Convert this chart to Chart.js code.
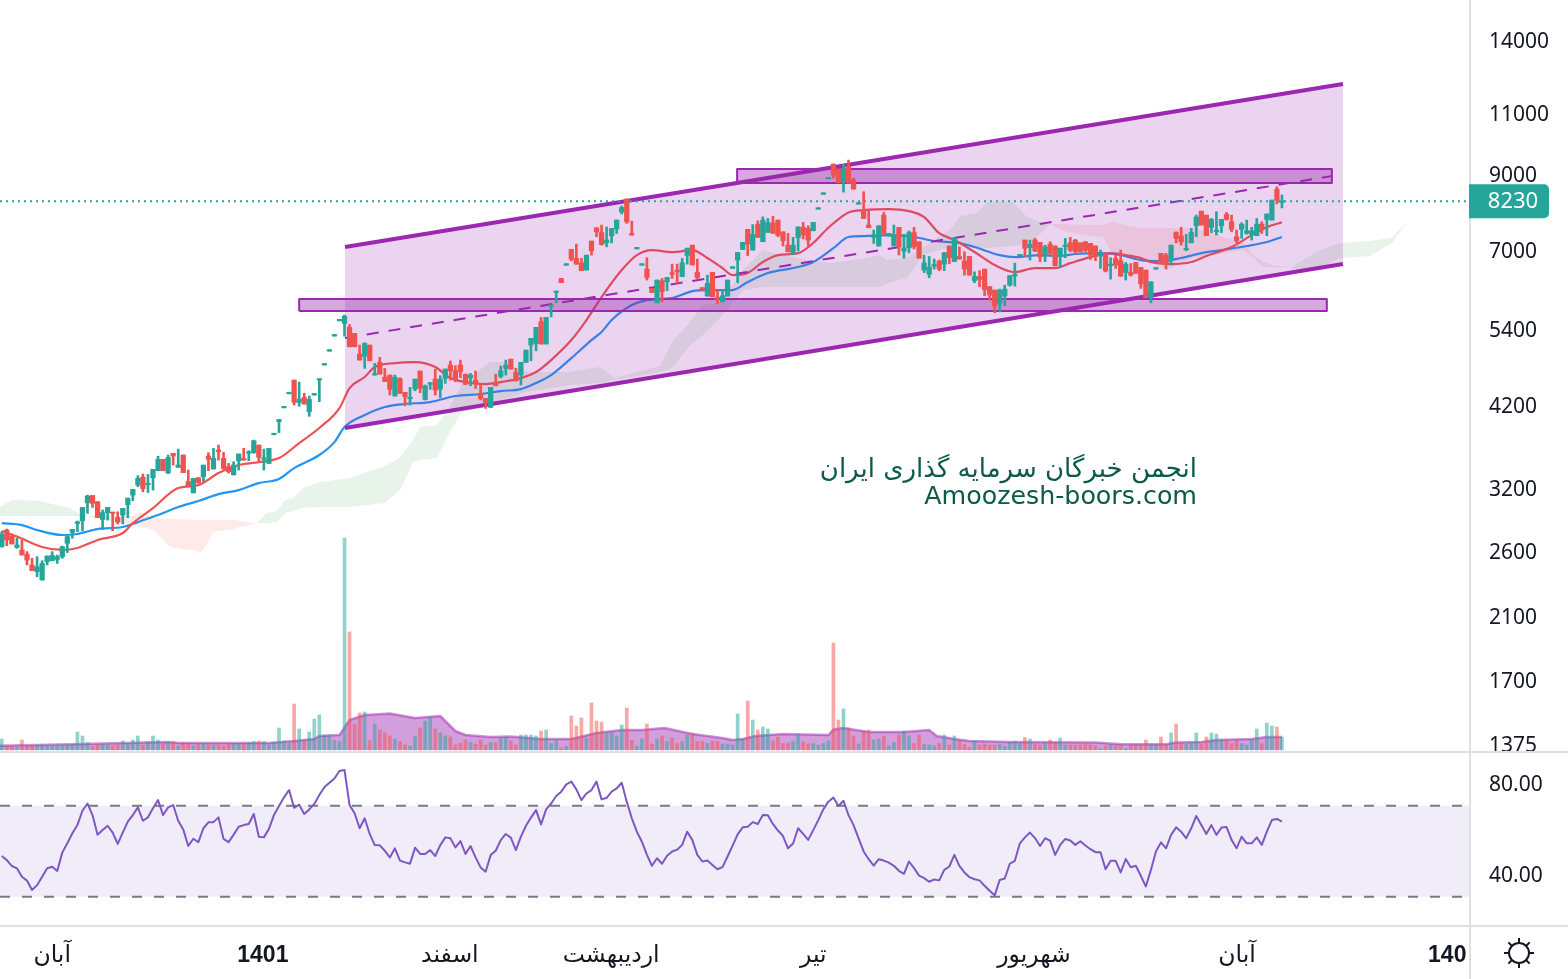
<!DOCTYPE html>
<html>
<head>
<meta charset="utf-8">
<script src="https://cdn.jsdelivr.net/npm/chart.js@4"></script>
<style>
  html, body { margin: 0; padding: 0; background: #fff; }
  canvas { display: block; }
</style>
</head>
<body>
<canvas id="chart" width="1568" height="979"></canvas>
<script>
const opens = [
  2636,2784,2730,2630,2607,2570,2481,2427,2361,2508,
  2516,2527,2550,2665,2763,2845,2870,3046,3120,3056,
  2883,2948,2950,2902,2925,3026,3124,3229,3315,3232,
  3308,3385,3515,3360,3585,3423,3565,3265,3147,3308,
  3320,3553,3404,3624,3526,3430,3340,3498,3526,3585,
  3592,3684,3515,3468,3812,3980,4165,4362,4564,4240,
  4310,4112,4344,4564,4796,5020,5276,5548,5500,5430,
  5323,4970,4938,5122,4640,4838,4608,4640,4330,4585,
  4383,4290,4430,4702,4280,4500,4578,4430,4590,4795,
  4706,4795,4654,4600,4564,4369,4297,4171,4530,4620,
  4743,4890,4680,4640,4838,5122,5150,5530,5140,5820,
  6090,6380,6663,7020,6815,6716,6558,7216,7540,7425,
  7175,7343,7510,7940,8290,7400,7032,6663,6580,6175,
  5887,6332,6310,6490,6558,6420,6880,7120,6510,6190,
  6020,6510,5993,5906,6020,6598,6778,7020,7500,7005,
  7630,7200,7425,7665,7733,7440,7120,6915,7295,7550,
  7525,7465,8015,8419,8858,9300,9150,8770,9240,8823,
  8150,7992,7608,7305,7100,7860,7335,7100,7550,6980,
  7060,7420,7200,6558,6470,6645,6755,6690,7100,6745,
  6860,6755,6860,6332,6420,6580,6210,6140,5880,6020,
  6240,6430,6873,7240,7060,7240,7185,6915,7145,7100,
  6860,7085,7175,7240,7175,7200,7160,7100,6870,6930,
  6655,6815,6765,6505,6505,6725,6615,6558,5985,6578,
  6930,6890,6815,7425,7335,7010,7175,7590,7965,7860,
  7550,7440,7590,7880,7690,7320,7500,7400,7380,7345,
  7630,7750,7733,8565,8200
];
const highs = [
  2769,2793,2748,2710,2694,2593,2536,2550,2516,2556,
  2593,2564,2641,2730,2790,2868,3000,3124,3120,3056,
  2974,3000,2950,2957,2990,3093,3183,3330,3348,3344,
  3400,3550,3515,3565,3585,3636,3565,3393,3300,3308,
  3449,3592,3644,3684,3596,3468,3487,3577,3644,3616,
  3745,3684,3636,3644,3828,4008,4185,4384,4564,4534,
  4369,4330,4366,4578,4820,5046,5304,5576,5654,5480,
  5323,5122,5160,5122,4822,4918,4743,4640,4640,4600,
  4383,4455,4578,4702,4490,4530,4733,4630,4733,4860,
  4785,4875,4654,4665,4702,4510,4297,4455,4654,4780,
  4875,4890,4743,4838,5038,5236,5430,5610,5610,5844,
  6120,6380,6697,7020,7145,6815,6890,7216,7540,7608,
  7560,7525,7733,8100,8290,7707,7068,6697,6830,6175,
  6346,6380,6400,6688,6688,6815,7050,7120,6800,6190,
  6450,6510,6140,6140,6346,6632,6950,7185,7500,7620,
  7715,7815,7775,7830,7733,7440,7400,7305,7560,7675,
  7590,7675,8055,8461,8902,9300,9150,9300,9424,8880,
  8190,8490,7992,7483,7590,7930,7400,7608,7550,7380,
  7460,7550,7200,6885,6860,6800,6778,6950,7100,7305,
  7080,6965,6860,6520,6545,6580,6210,6140,6160,6240,
  6440,6710,6907,7240,7240,7280,7185,7120,7200,7100,
  7050,7280,7305,7255,7175,7200,7160,7100,7005,6930,
  6830,6890,7005,6725,6700,6725,6615,6558,6310,6612,
  6930,6930,7120,7440,7550,7380,7525,7860,7965,7860,
  7775,7950,7750,7930,7860,7483,7665,7733,7550,7775,
  7690,7890,8260,8630,8400
];
const lows = [
  2630,2644,2659,2621,2564,2481,2435,2387,2361,2481,
  2516,2494,2536,2585,2710,2769,2775,2941,3000,2902,
  2790,2877,2778,2840,2840,2900,3066,3211,3158,3151,
  3176,3385,3385,3352,3449,3423,3364,3211,3147,3247,
  3265,3385,3404,3506,3400,3360,3337,3393,3506,3498,
  3585,3498,3393,3468,3810,3838,4165,4362,4204,4186,
  4217,4050,4344,4250,4796,5020,5276,5548,5274,5093,
  5093,4875,4743,4864,4640,4654,4542,4344,4330,4369,
  4193,4203,4406,4378,4273,4426,4344,4305,4516,4564,
  4538,4600,4500,4478,4440,4273,4157,4171,4478,4600,
  4640,4733,4550,4490,4838,4864,5026,5140,5140,5620,
  5887,6292,6663,6763,6688,6545,6558,6890,7320,7120,
  7080,7175,7400,7890,7650,7360,7032,6663,6346,6090,
  5887,5906,6126,6380,6277,6420,6688,6670,6380,6140,
  6020,6005,5862,5906,6020,6598,6292,7020,6880,7005,
  7305,7200,7425,7400,7320,7100,6965,6915,6990,7265,
  7105,7465,8015,8419,8858,8880,8745,8480,8735,8565,
  8150,7775,7540,7160,7100,7360,7335,7100,6890,6820,
  6940,7030,6820,6505,6395,6580,6545,6545,6700,6745,
  6800,6450,6450,6292,6210,6025,5941,5697,5715,5830,
  6220,6220,6873,6860,6778,6965,6745,6745,6890,6650,
  6615,6830,6965,6915,6965,6965,6790,6765,6595,6520,
  6365,6595,6420,6346,6430,6490,6175,5985,5887,6578,
  6715,6580,6670,7175,7120,6990,7175,7320,7608,7345,
  7420,7360,7420,7733,7440,7175,7280,7380,7240,7345,
  7400,7345,7733,8155,8050
];
const closes = [
  2748,2694,2659,2650,2564,2522,2435,2467,2494,2556,
  2561,2550,2635,2725,2790,2860,3000,3114,3040,2902,
  2948,3000,2940,2858,2990,3093,3183,3301,3190,3247,
  3400,3515,3385,3537,3553,3449,3364,3211,3300,3254,
  3449,3515,3526,3604,3410,3375,3449,3577,3506,3592,
  3737,3537,3530,3644,3826,4008,4185,4384,4240,4286,
  4217,4282,4366,4578,4820,5046,5304,5576,5635,5093,
  5093,4875,5150,4864,4660,4654,4542,4426,4608,4369,
  4320,4305,4578,4440,4478,4515,4416,4578,4733,4706,
  4564,4690,4500,4640,4510,4297,4228,4455,4478,4706,
  4795,4733,4550,4838,5038,5236,5430,5140,5610,5844,
  6120,6292,6697,6800,6688,6545,6890,6990,7440,7135,
  7240,7525,7733,8060,7690,7360,7068,6697,6400,6090,
  6346,6105,6400,6468,6520,6716,7050,6670,6395,6140,
  6277,6005,5960,6025,6346,6632,6950,7185,7145,7380,
  7305,7733,7665,7400,7350,7225,6965,7120,7560,7360,
  7240,7675,8055,8461,8902,8970,8745,9170,8735,8565,
  8190,7775,7540,7335,7590,7400,7400,7345,7080,7055,
  7420,7080,6820,6715,6625,6680,6580,6940,6830,7280,
  6800,6580,6450,6420,6360,6150,6040,5825,6140,6160,
  6440,6470,6907,7045,7140,6985,6850,7080,6930,6650,
  7050,7115,7005,6965,6965,7000,6890,6860,6905,6540,
  6685,6670,6430,6688,6450,6490,6265,5985,6310,6612,
  6730,6680,7120,7280,7200,7040,7425,7815,7608,7345,
  7750,7483,7750,7750,7500,7225,7630,7465,7465,7630,
  7483,7890,8260,8260,8230
];
const volumes = [
  11,4,3.5,2.5,10,4,5,5,5,4,
  4,5,5,5,5.5,18,14,7.5,3.5,5.5,
  5.5,5,4,5,9,6.5,10,14,5,8.5,
  14,10,6,7.5,8.5,4,7.5,6.5,4,6.5,
  6.5,6.5,5,5,4,6.5,6.5,6.5,6.5,7.5,
  8.5,9,8.5,5,7.5,22,9,6.5,46,21,
  10,18,31,35,15,15,9.5,8.5,212,118,
  26,37,38,9.5,26,20,17,14,11,8.5,
  5,4,14,22,29,33,21,17,14,13,
  5,6.5,10,7.5,6,10,5,7.5,7.5,12,
  13,9,5,15,15,15,14,19,20,6.5,
  10,2,3.5,34,24,32,12,47,29,28,
  17,17,14,25,42,9.5,4,11,26,6,
  11,14,8.5,12,6.5,8.5,15,17,8.5,8.5,
  6.5,8.5,8.5,6,6,5,36,11,49,30,
  20,23,21,9,13,6.5,7,8.5,16,8.5,
  6,6.5,5,6.5,9,107,30,41,22,14,
  6,19,20,10,11,14,4,7.5,15,19,
  14,6.5,15,5.5,5,4,6.5,15,5,14,
  9,5.5,2.5,9.5,5,6,5,5,6,4,
  7.5,8.5,6.5,12.5,11,6.5,5,7.5,10,7.5,
  12,5,5,5,5,6.5,5,4,1.5,4,
  5,4,5,1.5,5,5,5,10,5.5,5,
  13,5,17,26,6.5,6,7.5,17,6,13,
  17,16,10,10,6.5,10,6.5,5,10,21,
  6.5,27,24,23,13
];
const rsiValues = [
  47.9,46.1,43.5,42.5,38.8,37.1,33,35.1,38.8,42.5,
  43.2,41.3,49.4,53.5,57.9,61.5,67.8,71,65.9,57.3,
  59.3,61.2,58.2,53.2,58.2,63,65.9,69.3,63.4,64.9,
  68.9,72.5,65.9,69.3,70.3,63.4,59.6,52.3,55.5,54,
  60.1,62.7,62.8,64.9,55.4,54,57.3,60.8,61.5,62,
  66.4,56.4,56.1,59.8,65.9,69.9,73.7,76.9,69.1,70.5,
  66.4,68.4,70.8,74.7,78.1,80.1,82,85.3,85.7,70.3,
  66.7,60.1,64.5,57.6,52.7,52.6,50.2,47.3,51.3,45.9,
  45.1,44.5,51.6,48.8,48.8,50.5,47.9,52.7,56.1,55.7,
  51.7,54.5,48.8,52.3,47.3,42.9,41,48.3,50.2,54.9,
  57.6,56,50.5,56.4,61.2,64.8,68.1,61.8,68.4,71,
  74.3,76.2,79.4,80.6,77.2,72.5,75.4,76.9,80.6,72.8,
  73.5,76.2,77.6,80.1,71.8,64.5,58.6,54.2,48.4,43.6,
  46.9,44.5,48,49.9,50.7,52.8,58.6,55,48.4,45.5,
  45.9,44,42.1,43,47.7,52.5,57.4,60.5,60.8,62.8,
  62,65.9,65.8,62,59.1,56.7,51.3,53.4,60.1,57.6,
  55,59.3,63.7,68.4,71.8,73.6,69.9,72.2,65.9,61.5,
  55.7,49.9,46.5,43.7,46.5,45.9,45,43.6,41.4,40.1,
  45.5,42.6,39.3,38.2,36.6,37.6,37.2,41.8,43.3,48.4,
  43.6,40.7,38.6,37.7,37.2,34.8,32.6,30.6,37.4,38,
  44.5,45.8,53.5,56.1,58.2,55.8,52.3,55.7,54.7,48.4,
  52.8,55.4,54.7,52.8,54.4,52.5,50.9,49.6,49.6,42.1,
  45.8,45.8,40.7,46.6,43,43.6,39.2,34.5,41.8,49.9,
  53.9,51.3,57.2,60.5,58.6,55.7,60.1,65.5,61.5,57.6,
  61.5,57.2,60.4,60.7,55,51.3,56.4,53.5,53.5,56.1,
  52.8,58.6,63.7,64.2,63
];

// moving averages, read at the bends only
const fastMaBars = [0,3,8,12,15,19,24,26,30,35,39,43,47,51,55,59,63,67,69,72,74,78,82,86,89,92,96,99,103,106,109,113,116,119,123,126,129,133,137,140,143,145,148,151,154,158,161,164,168,171,176,180,183,186,189,193,197,201,205,209,212,216,220,223,226,228,232,236,239,244,248,251,254];
const fastMaValues = [2775,2725,2633,2607,2624,2694,2757,2848,2993,3197,3228,3359,3450,3483,3529,3708,3897,4162,4445,4610,4765,4827,4843,4765,4594,4534,4504,4534,4594,4686,4875,5207,5562,6000,6558,6890,7005,6960,7005,6825,6600,6450,6495,6735,6890,6935,7170,7540,7930,7992,8020,7965,7810,7405,7240,6960,6668,6515,6600,6600,6710,6845,6935,6890,6825,6735,6690,6735,6870,7075,7360,7555,7680];
const slowMaBars = [0,4,7,12,15,19,24,27,31,35,39,43,47,51,55,58,63,66,68,72,76,80,85,90,95,99,103,106,109,113,117,119,121,125,128,133,137,140,145,148,152,158,161,165,168,171,176,181,185,190,193,198,201,206,210,213,218,222,226,230,234,238,242,247,251,254];
const slowMaValues = [2848,2830,2784,2739,2748,2793,2812,2858,2925,3003,3063,3134,3176,3250,3294,3415,3565,3720,3909,4067,4176,4218,4245,4330,4359,4402,4430,4520,4640,4907,5207,5347,5562,5844,5941,5980,6120,6140,6140,6305,6495,6625,6735,7050,7313,7337,7360,7313,7218,7170,7075,6890,6845,6890,6870,6915,6935,6890,6778,6755,6825,6935,7005,7100,7195,7313];

// ichimoku cloud edges
const cloudBars = [-0.4,2,7.6,11.5,13.1,16.1,26,27.4,30,30.8,33.4,38.7,39.3,40.9,41.9,45.9,50.6,52.6,54.6,56.2,57.8,59.8,63.1,69.1,76,79,81.6,83,86.4,88.9,91.3,96.9,99.4,104.2,112.7,118.7,121.7,130.6,133,136.6,139.1,142.5,147.1,151,153,159.8,164.3,171.7,174.2,175.6,179.6,182.8,188.1,190.1,193.5,195.5,200.6,203.4,206,208,210,214.5,218.5,220.3,225.8,231.2,234.4,236.4,246.3,248.3,250.3,252.2,255.6,257.6,261.6,265.5,271.5,275.8,279];
const spanA = [3003,3073,3063,3013,3003,2916,2830,2812,2784,2757,2633,2598,2581,2668,2766,2793,2848,2945,2964,3073,3094,3197,3262,3305,3438,3530,3745,3909,3935,4176,4505,4843,4843,4686,4686,4765,4594,4780,5173,5526,5844,5883,6558,7005,6936,6778,6712,6823,6890,6778,6823,7075,7483,7835,7912,8205,8205,7810,7682,7632,7483,7361,7313,6936,6823,6558,6712,6823,7005,6823,6624,6624,6602,6734,7005,7168,7216,7289,7708];
const spanB = [2916,2916,2916,2916,2916,2916,2916,2954,2916,2896,2887,2877,2877,2877,2877,2877,2848,2848,2858,2945,2964,2993,3003,3003,3043,3176,3483,3506,3530,3846,4107,4217,4273,4387,4490,4520,4564,4686,4749,5122,5294,5599,6140,6201,6201,6201,6201,6201,6201,6282,6388,6890,7075,7122,7075,7052,7098,7122,7385,7632,7632,7607,7607,7682,7532,7532,7532,7532,7168,6890,6734,6668,6602,6558,6602,6823,6868,7168,7708];

// drawn objects on the chart
const channelBars = [68.1, 266.1];
const channelUpper = [7077, 12110];
const channelLower = [3898, 6691];
const midlineBars = [68.1, 263.9];
const midlineValues = [5243, 8942];
const upperBoxBars = [145.9, 263.9];
const upperBoxTop = 9150;
const upperBoxBottom = 8739;
const lowerBoxBars = [59, 262.9];
const lowerBoxTop = 5962;
const lowerBoxBottom = 5732;

const volMaBars = [-0.4,16,33,35,53,58,62,63,67,69,72,77,82,87,90,92,97,101,107,113,118,123,127,131.5,137,143,145,147,149.5,155,164,165,167,172,179,184,185.5,189,192,200,217,222,231,233,238,241,248,251,254];
const volMaValues = [4.3,6,8,7,7,9,11,14,15,30,35,36.5,32,34,19,15,13,13.5,11,11,17,20,20,22,16,12,10,11,14,16,15,20.5,22,18,18,20,14,11,9,8,7.5,5.7,5.7,7.5,8,10,11,13,13];

const lastPrice = 8230;
const rsiUpper = 70;
const rsiLower = 30;
const rsiPaneTop = 93.63;
const priceTicks = [14000, 11000, 9000, 7000, 5400, 4200, 3200, 2600, 2100, 1700, 1375];
const rsiTicks = [80, 40];
const timeBars = [10, 51.8, 88.9, 120.9, 161, 204.8, 245.1, 286.8];
const timeLabels = ["آبان", "1401", "اسفند", "اردیبهشت", "تیر", "شهریور", "آبان", "140"];
const boldTimeLabels = ["1401", "140"];

const UP = "#26a69a";
const DOWN = "#ef5350";
const PURPLE = "#9c27b0";
const AXIS_LINE = "#e0e0e0";
const TEXT = "#131722";
const AXIS_FONT = '21px "Noto Sans"';

const xMin = -0.357;
const xMax = 291.31;

const bars = opens.map((_, i) => i);
const isUp = (i) => closes[i] >= opens[i];
const xy = (xs, ys) => xs.map((x, i) => ({ x, y: ys[i] }));

const lineDefaults = { type: "line", pointRadius: 0, borderJoinStyle: "round", fill: false };

const chromePlugin = {
  id: "chrome",
  afterDraw(chart) {
    const ctx = chart.ctx;
    const area = chart.chartArea;
    const rsi = chart.scales.yRsi;
    const paneY = rsi.getPixelForValue(rsiPaneTop);
    ctx.save();

    // pane separators and the price axis edge
    ctx.strokeStyle = AXIS_LINE;
    ctx.lineWidth = 2;
    ctx.beginPath();
    ctx.moveTo(0, paneY);
    ctx.lineTo(chart.width, paneY);
    ctx.moveTo(0, area.bottom);
    ctx.lineTo(chart.width, area.bottom);
    ctx.moveTo(area.right, 0);
    ctx.lineTo(area.right, chart.height);
    ctx.stroke();

    // rsi axis labels
    ctx.fillStyle = TEXT;
    ctx.font = AXIS_FONT;
    ctx.textAlign = "left";
    ctx.textBaseline = "middle";
    rsiTicks.forEach((v) => {
      ctx.fillText(v.toFixed(2), area.right + 19, rsi.getPixelForValue(v) + 2);
    });

    // last price badge
    const priceY = chart.scales.y.getPixelForValue(lastPrice);
    ctx.fillStyle = UP;
    ctx.beginPath();
    ctx.roundRect(area.right - 1, priceY - 17, 80, 34, [0, 5, 5, 0]);
    ctx.fill();
    ctx.fillStyle = "#fff";
    ctx.font = '22px "Noto Sans"';
    ctx.textAlign = "center";
    ctx.fillText(String(lastPrice), area.right + 43, priceY + 1);

    // watermark
    ctx.fillStyle = "#0b5a4a";
    ctx.font = '26px "DejaVu Sans"';
    ctx.textAlign = "right";
    ctx.direction = "rtl";
    ctx.fillText("انجمن خبرگان سرمایه گذاری ایران", 1197, 470);
    ctx.direction = "ltr";
    ctx.font = '25.3px "DejaVu Sans"';
    ctx.fillText("Amoozesh-boors.com", 1197, 497);

    // theme switch icon
    const cx = 1519, cy = 953;
    ctx.strokeStyle = TEXT;
    ctx.lineWidth = 2;
    ctx.beginPath();
    ctx.arc(cx, cy, 10, 0, Math.PI * 2);
    for (let k = 0; k < 8; k++) {
      const a = (k * Math.PI) / 4;
      ctx.moveTo(cx + Math.cos(a) * 10, cy + Math.sin(a) * 10);
      ctx.lineTo(cx + Math.cos(a) * 15, cy + Math.sin(a) * 15);
    }
    ctx.stroke();
    ctx.restore();
  },
};

new Chart(document.getElementById("chart"), {
  type: "line",
  plugins: [chromePlugin],
  data: {
    datasets: [
      // ichimoku cloud
      {
        ...lineDefaults, data: xy(cloudBars, spanA), yAxisID: "y", borderWidth: 0, order: 40,
        fill: { target: "+1", above: "rgba(67,160,71,0.12)", below: "rgba(244,67,54,0.11)" },
      },
      { ...lineDefaults, data: xy(cloudBars, spanB), yAxisID: "y", borderWidth: 0, order: 41 },

      // moving averages
      { ...lineDefaults, data: xy(slowMaBars, slowMaValues), yAxisID: "y", borderColor: "#2196f3", borderWidth: 2.2, cubicInterpolationMode: "monotone", order: 30 },
      { ...lineDefaults, data: xy(fastMaBars, fastMaValues), yAxisID: "y", borderColor: DOWN, borderWidth: 2.2, cubicInterpolationMode: "monotone", order: 29 },

      // rising channel
      {
        ...lineDefaults, data: xy(channelBars, channelUpper), yAxisID: "y", borderColor: PURPLE, borderWidth: 4, order: 20,
        fill: { target: "+1", above: "rgba(156,39,176,0.2)", below: "rgba(156,39,176,0.2)" },
      },
      { ...lineDefaults, data: xy(channelBars, channelLower), yAxisID: "y", borderColor: PURPLE, borderWidth: 4, order: 21 },
      { ...lineDefaults, data: xy(midlineBars, midlineValues), yAxisID: "y", borderColor: PURPLE, borderWidth: 2, borderDash: [12, 10], order: 19 },

      // support and resistance boxes
      {
        ...lineDefaults, data: xy(upperBoxBars, [upperBoxTop, upperBoxTop]), yAxisID: "y", borderWidth: 0, order: 18,
        fill: { value: upperBoxBottom }, backgroundColor: "rgba(156,39,176,0.4)",
      },
      {
        ...lineDefaults, yAxisID: "y", borderColor: PURPLE, borderWidth: 2, order: 17,
        data: xy([upperBoxBars[0], upperBoxBars[0], upperBoxBars[1], upperBoxBars[1], upperBoxBars[0]],
          [upperBoxBottom, upperBoxTop, upperBoxTop, upperBoxBottom, upperBoxBottom]),
      },
      {
        ...lineDefaults, data: xy(lowerBoxBars, [lowerBoxTop, lowerBoxTop]), yAxisID: "y", borderWidth: 0, order: 18,
        fill: { value: lowerBoxBottom }, backgroundColor: "rgba(156,39,176,0.4)",
      },
      {
        ...lineDefaults, yAxisID: "y", borderColor: PURPLE, borderWidth: 2, order: 17,
        data: xy([lowerBoxBars[0], lowerBoxBars[0], lowerBoxBars[1], lowerBoxBars[1], lowerBoxBars[0]],
          [lowerBoxBottom, lowerBoxTop, lowerBoxTop, lowerBoxBottom, lowerBoxBottom]),
      },

      // last price line
      { ...lineDefaults, data: xy([xMin, xMax], [lastPrice, lastPrice]), yAxisID: "y", borderColor: UP, borderWidth: 2, borderDash: [2, 4], order: 16 },

      // candles
      {
        type: "bar", yAxisID: "y", barThickness: 2, grouped: false, order: 5, minBarLength: 1,
        data: bars.map((i) => ({ x: i, y: [lows[i], highs[i]] })),
        backgroundColor: bars.map((i) => (isUp(i) ? UP : DOWN)),
      },
      {
        type: "bar", yAxisID: "y", barThickness: 4.6, grouped: false, order: 4, minBarLength: 1.5,
        data: bars.map((i) => ({ x: i, y: [opens[i], closes[i]] })),
        backgroundColor: bars.map((i) => (isUp(i) ? UP : DOWN)),
      },

      // volume
      {
        ...lineDefaults, data: xy(volMaBars, volMaValues), yAxisID: "yVol", borderColor: "rgba(156,39,176,0.5)", borderWidth: 2.5, order: 12,
        fill: { value: 0 }, backgroundColor: "rgba(156,39,176,0.45)",
      },
      {
        type: "bar", yAxisID: "yVol", barThickness: 3, grouped: false, order: 11,
        data: bars.map((i) => ({ x: i, y: volumes[i] })),
        backgroundColor: bars.map((i) => (isUp(i) ? "rgba(38,166,154,0.5)" : "rgba(239,83,80,0.5)")),
      },

      // rsi
      {
        ...lineDefaults, data: xy([xMin, xMax], [rsiUpper, rsiUpper]), yAxisID: "yRsi", borderColor: "#787b86", borderWidth: 2, borderDash: [10, 12], order: 3,
        fill: { value: rsiLower }, backgroundColor: "rgba(126,87,194,0.11)",
      },
      { ...lineDefaults, data: xy([xMin, xMax], [rsiLower, rsiLower]), yAxisID: "yRsi", borderColor: "#787b86", borderWidth: 2, borderDash: [10, 12], order: 3 },
      { ...lineDefaults, data: xy(bars, rsiValues), yAxisID: "yRsi", borderColor: "#7e57c2", borderWidth: 2, order: 2 },
    ],
  },
  options: {
    responsive: false,
    animation: false,
    layout: { padding: 0, autoPadding: false },
    plugins: { legend: { display: false }, tooltip: { enabled: false } },
    scales: {
      x: {
        type: "linear",
        min: xMin,
        max: xMax,
        bounds: "data",
        offset: false,
        grid: { display: false, offset: false },
        border: { display: false },
        afterBuildTicks: (s) => { s.ticks = timeBars.map((v) => ({ value: v })); },
        afterFit: (s) => {
          s.height = 53;
          s.paddingLeft = 0;
          s.paddingRight = 0;
        },
        ticks: {
          autoSkip: false,
          maxRotation: 0,
          minRotation: 0,
          padding: 8,
          color: TEXT,
          font: (c) => boldTimeLabels.includes(timeLabels[c.index])
            ? { family: '"Liberation Sans"', size: 23, weight: "bold" }
            : { family: '"DejaVu Sans"', size: 23.5 },
          callback: (v, i) => timeLabels[i],
        },
      },
      y: {
        type: "logarithmic",
        position: "right",
        min: 754.9,
        max: 15973,
        bounds: "data",
        grid: { display: false },
        border: { display: false },
        afterBuildTicks: (s) => { s.ticks = priceTicks.map((v) => ({ value: v })); },
        // tick label padding would otherwise push the plot down
        afterFit: (s) => {
          s.width = 98;
          s.paddingTop = 0;
          s.paddingBottom = 0;
        },
        ticks: {
          autoSkip: false,
          padding: 11,
          labelOffset: 2,
          color: TEXT,
          font: { family: '"Noto Sans"', size: 21 },
          callback: (v) => String(v),
        },
      },
      yRsi: {
        type: "linear",
        axis: "y",
        position: "right",
        display: false,
        min: 17.14,
        max: 424.2,
        bounds: "data",
      },
      yVol: {
        type: "linear",
        axis: "y",
        position: "right",
        display: false,
        min: -176,
        max: 750,
        bounds: "data",
      },
    },
  },
});
</script>
</body>
</html>
